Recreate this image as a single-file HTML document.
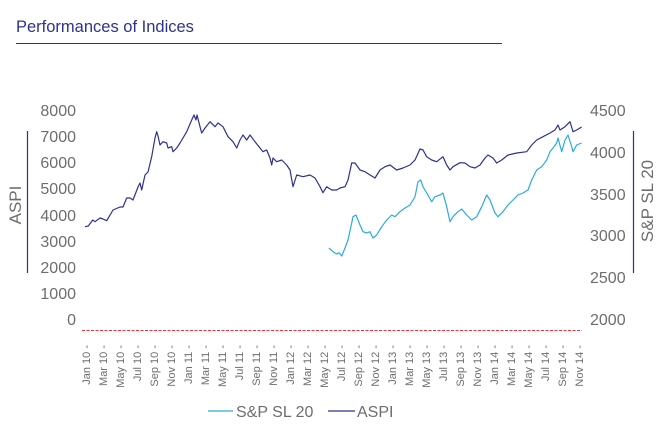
<!DOCTYPE html>
<html><head><meta charset="utf-8"><style>
html,body{margin:0;padding:0;background:#fff;}
svg{display:block;font-family:"Liberation Sans",sans-serif;}
</style></head><body>
<svg width="660" height="440" viewBox="0 0 660 440" xmlns="http://www.w3.org/2000/svg">
<rect width="660" height="440" fill="#fff"/>
<text x="16" y="32" font-size="16.5" fill="#2e3192">Performances of Indices</text>
<line x1="16" y1="43.5" x2="502" y2="43.5" stroke="#2e3192" stroke-width="1"/>

<g font-size="16" fill="#6d6d6d" text-anchor="end">
<text x="76" y="116">8000</text>
<text x="76" y="142">7000</text>
<text x="76" y="168">6000</text>
<text x="76" y="194">5000</text>
<text x="76" y="221">4000</text>
<text x="76" y="247">3000</text>
<text x="76" y="273">2000</text>
<text x="76" y="299">1000</text>
<text x="76" y="325">0</text>
</g>
<g font-size="16" fill="#6d6d6d" text-anchor="start">
<text x="590" y="116">4500</text>
<text x="590" y="158">4000</text>
<text x="590" y="200">3500</text>
<text x="590" y="241">3000</text>
<text x="590" y="283">2500</text>
<text x="590" y="325">2000</text>
</g>
<line x1="27.5" y1="131" x2="27.5" y2="273" stroke="#2e3192" stroke-width="1.2"/>
<text transform="translate(21,205) rotate(-90)" text-anchor="middle" font-size="17" fill="#6d6d6d">ASPI</text>
<line x1="633.5" y1="131" x2="633.5" y2="273" stroke="#2e3192" stroke-width="1.2"/>
<text transform="translate(653,201) rotate(-90)" text-anchor="middle" font-size="17" fill="#6d6d6d">S&amp;P SL 20</text>

<line x1="82" y1="330.5" x2="582" y2="330.5" stroke="#e8333a" stroke-width="1" stroke-dasharray="3,1.5"/>

<polyline fill="none" stroke="#2e3192" stroke-width="1.2" stroke-linejoin="round" points="85,226.7 88.3,226 92.7,220 95,221.7 100,218 103,219 106.7,220.7 113,210 120,207 123,207 126.7,198 130,198 133,200 138,187 140,183 141.7,190 145,175 148,172 151.7,156.7 155,138 156.7,131.7 158,136 160,145 163,141.7 166.7,143 168,148 171.7,146.7 173,151.7 176.7,148 180,143 186.7,131.7 191.7,120 194,115 196,120 197,115 200,126.7 201.7,133 205,128 210,121.7 215,126.7 218,123 223,126.7 228,136.7 233,141.7 236.7,148 240,140 243,135 246.7,140 250,135 255,141.7 260,148 263,151.7 266.7,150 270,158 271.7,165 273,158 276.7,161.7 281.7,160 286.7,165 290,170 293,186.7 296.7,175 303,176.7 310,175 315,178 320,186.7 323,192.7 326.7,186.7 331.7,190 336.7,190 340,188 345,186.7 348,180 351.7,163 355,163 360,170 365,171.7 370,175 375,178 380,170 385,166.7 390,165 396.7,170 403,168 410,165 415,160 420,149 423,150 426.7,156.7 431.7,160 436.7,161.7 443,156.7 446.7,165 450,170 453,166.7 460,162.7 465,163 470,166.7 475,168 480,165 485,158 488,155 493,158 496.7,163 501.7,160 508,155 516.7,153 526.7,151.7 531.7,145 536.7,140 543,136.7 550,133 555,130 558,125 560,130 565,126.7 570,121.7 573,131.7 576.7,130 581.7,127"/>

<polyline fill="none" stroke="#29abe2" stroke-width="1.2" stroke-linejoin="round" points="329,248 333,251.7 336.7,254 339,252.7 341.7,256 345,248 348,240 351.7,223 353,216.7 356,215 360,225 363,231.7 366.7,233 370,231.7 373,238 376.7,235 381.7,226.7 386.7,220 391.7,215 395,216.7 400,211.7 405,208 410,205 415,196.7 418,181.7 420.7,180 423,186.7 426.7,193 431.7,201.7 435,196.7 440,195 443,193 446.7,206.7 450,221.7 453,216.7 458,211.7 461.7,209 466.7,215 471.7,220 476.7,216.7 481.7,206.7 486.7,195 490,200 495,213 498,216.7 503,211.7 508,205 513,200 518,195 523,193 528,190 531.7,180 536.7,170 541.7,166.7 546.7,160 550,151.7 553,148 556.7,143 558,138 561.7,151.7 565,140 568,135 571.7,146.7 573,151.7 576.7,145 581.7,143"/>

<g font-size="11" fill="#6d6d6d" text-anchor="end">
<text transform="translate(90,345) rotate(-90)">Jan 10 -</text>
<text transform="translate(107,345) rotate(-90)">Mar 10 -</text>
<text transform="translate(124,345) rotate(-90)">May 10 -</text>
<text transform="translate(141,345) rotate(-90)">Jul 10 -</text>
<text transform="translate(158,345) rotate(-90)">Sep 10 -</text>
<text transform="translate(175,345) rotate(-90)">Nov 10 -</text>
<text transform="translate(192,345) rotate(-90)">Jan 11 -</text>
<text transform="translate(209,345) rotate(-90)">Mar 11 -</text>
<text transform="translate(226,345) rotate(-90)">May 11 -</text>
<text transform="translate(243,345) rotate(-90)">Jul 11 -</text>
<text transform="translate(260,345) rotate(-90)">Sep 11 -</text>
<text transform="translate(277,345) rotate(-90)">Nov 11 -</text>
<text transform="translate(294,345) rotate(-90)">Jan 12 -</text>
<text transform="translate(311,345) rotate(-90)">Mar 12 -</text>
<text transform="translate(328,345) rotate(-90)">May 12 -</text>
<text transform="translate(345,345) rotate(-90)">Jul 12 -</text>
<text transform="translate(362,345) rotate(-90)">Sep 12 -</text>
<text transform="translate(379,345) rotate(-90)">Nov 12 -</text>
<text transform="translate(396,345) rotate(-90)">Jan 13 -</text>
<text transform="translate(413,345) rotate(-90)">Mar 13 -</text>
<text transform="translate(430,345) rotate(-90)">May 13 -</text>
<text transform="translate(447,345) rotate(-90)">Jul 13 -</text>
<text transform="translate(464,345) rotate(-90)">Sep 13 -</text>
<text transform="translate(481,345) rotate(-90)">Nov 13 -</text>
<text transform="translate(498,345) rotate(-90)">Jan 14 -</text>
<text transform="translate(515,345) rotate(-90)">Mar 14 -</text>
<text transform="translate(532,345) rotate(-90)">May 14 -</text>
<text transform="translate(549,345) rotate(-90)">Jul 14 -</text>
<text transform="translate(566,345) rotate(-90)">Sep 14 -</text>
<text transform="translate(583,345) rotate(-90)">Nov 14 -</text>
</g>

<line x1="208" y1="411" x2="233" y2="411" stroke="#29abe2" stroke-width="1.2"/>
<text x="236" y="417" font-size="16" fill="#6d6d6d">S&amp;P SL 20</text>
<line x1="328" y1="411" x2="355" y2="411" stroke="#2e3192" stroke-width="1.2"/>
<text x="357" y="417" font-size="16" fill="#6d6d6d">ASPI</text>
</svg>
</body></html>
